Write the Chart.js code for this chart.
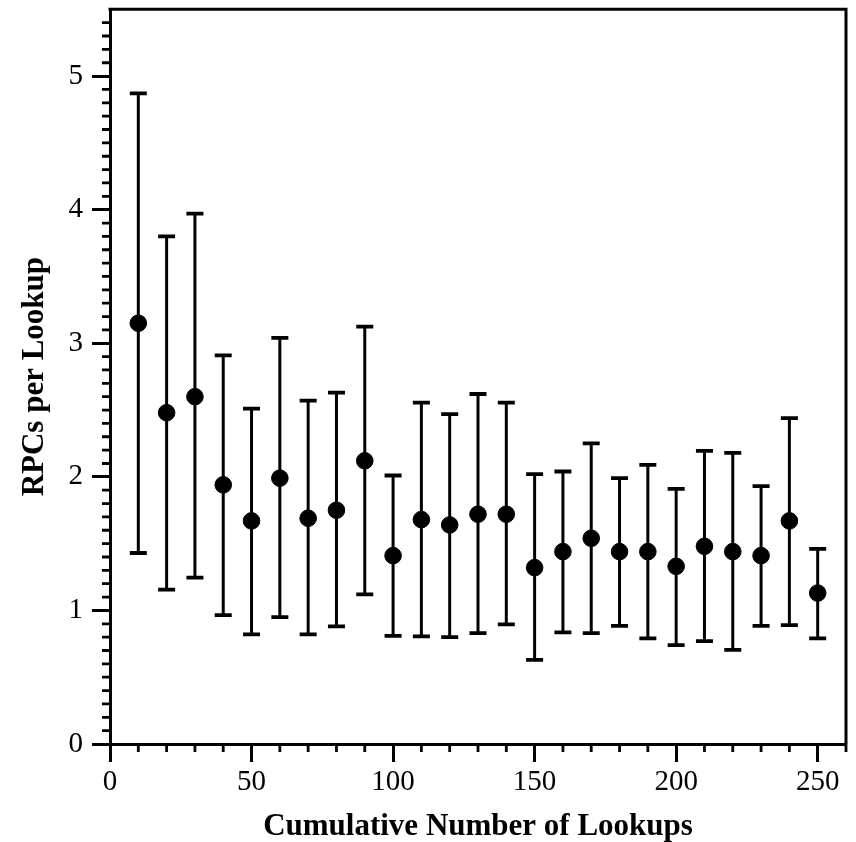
<!DOCTYPE html>
<html>
<head>
<meta charset="utf-8">
<script src="https://cdn.jsdelivr.net/npm/chart.js@4"></script>
<style>
  html, body { margin: 0; padding: 0; background: #fff; }
</style>
</head>
<body>
<canvas id="chart" width="856" height="842"></canvas>
<script>
// values
var lookups = [10, 20, 30, 40, 50, 60, 70, 80, 90, 100, 110, 120, 130, 140, 150, 160, 170, 180, 190, 200, 210, 220, 230, 240, 250];
var rpcMean = [3.15, 2.48, 2.60, 1.94, 1.67, 1.99, 1.69, 1.75, 2.12, 1.41, 1.68, 1.64, 1.72, 1.72, 1.32, 1.44, 1.54, 1.44, 1.44, 1.33, 1.48, 1.44, 1.41, 1.67, 1.13];
var rpcHigh = [4.87, 3.80, 3.97, 2.91, 2.51, 3.04, 2.57, 2.63, 3.125, 2.01, 2.555, 2.47, 2.62, 2.555, 2.02, 2.04, 2.25, 1.99, 2.09, 1.91, 2.195, 2.18, 1.93, 2.44, 1.46];
var rpcLow = [1.43, 1.155, 1.245, 0.965, 0.82, 0.95, 0.82, 0.88, 1.12, 0.81, 0.805, 0.80, 0.83, 0.895, 0.63, 0.835, 0.83, 0.885, 0.79, 0.74, 0.77, 0.705, 0.885, 0.89, 0.79];
var xRange = [0, 260];
var yRange = [0, 5.5];

var serif = "'Liberation Serif', 'Times New Roman', serif";

// error bars, minor ticks and the box round the plot
var extras = {
  id: 'extras',
  beforeDatasetsDraw: function (chart) {
    var ctx = chart.ctx, xs = chart.scales.x, ys = chart.scales.y;
    ctx.save();
    ctx.strokeStyle = '#000';
    for (var i = 0; i < lookups.length; i++) {
      var px = xs.getPixelForValue(lookups[i]);
      var hi = ys.getPixelForValue(rpcHigh[i]);
      var lo = ys.getPixelForValue(rpcLow[i]);
      ctx.lineWidth = 3;
      ctx.beginPath();
      ctx.moveTo(px, hi);
      ctx.lineTo(px, lo);
      ctx.stroke();
      ctx.lineWidth = 3.8;
      ctx.beginPath();
      ctx.moveTo(px - 8.5, hi); ctx.lineTo(px + 8.5, hi);
      ctx.moveTo(px - 8.5, lo); ctx.lineTo(px + 8.5, lo);
      ctx.stroke();
    }
    ctx.restore();
  },
  afterDraw: function (chart) {
    var ctx = chart.ctx, xs = chart.scales.x, ys = chart.scales.y, a = chart.chartArea;
    ctx.save();
    ctx.strokeStyle = '#000';
    ctx.lineWidth = 2.8;
    ctx.beginPath();
    for (var k = 1; k < 55; k++) {
      if (k % 10 === 0) continue;
      var py = ys.getPixelForValue(k / 10);
      ctx.moveTo(a.left - 8, py);
      ctx.lineTo(a.left, py);
    }
    for (var j = 1; j <= 26; j++) {
      if (j % 5 === 0) continue;
      var px = xs.getPixelForValue(j * 10);
      ctx.moveTo(px, a.bottom);
      ctx.lineTo(px, a.bottom + 8);
    }
    ctx.stroke();
    ctx.lineWidth = 3;
    ctx.beginPath();
    ctx.moveTo(a.left - 1.5, a.top);
    ctx.lineTo(a.right, a.top);
    ctx.lineTo(a.right, a.bottom);
    ctx.stroke();
    ctx.restore();
  }
};

new Chart(document.getElementById('chart'), {
  type: 'scatter',
  data: {
    datasets: [{
      data: lookups.map(function (x, i) { return { x: x, y: rpcMean[i] }; }),
      backgroundColor: '#000',
      borderColor: '#000',
      pointRadius: 8.3,
      pointHoverRadius: 8.3
    }]
  },
  options: {
    responsive: false,
    animation: false,
    layout: { padding: { top: 7, right: 10, left: 0, bottom: 0 } },
    plugins: { legend: { display: false }, tooltip: { enabled: false } },
    scales: {
      x: {
        type: 'linear',
        min: xRange[0],
        max: xRange[1],
        afterFit: function (s) { s.height = 98; s.paddingLeft = 0; s.paddingRight = 0; },
        border: { color: '#000', width: 3 },
        grid: { drawOnChartArea: false, tickLength: 18, tickWidth: 3, tickColor: '#000' },
        ticks: { stepSize: 50, includeBounds: false, color: '#000', padding: 3, font: { family: serif, size: 29 } },
        title: {
          display: true,
          text: 'Cumulative Number of Lookups',
          color: '#000',
          font: { family: serif, size: 31, weight: 'bold', lineHeight: 1 },
          padding: { top: 0, bottom: 0 }
        }
      },
      y: {
        min: yRange[0],
        max: yRange[1],
        afterFit: function (s) { s.width = 110; s.paddingTop = 0; s.paddingBottom = 0; },
        border: { color: '#000', width: 3 },
        grid: { drawOnChartArea: false, tickLength: 18, tickWidth: 3, tickColor: '#000' },
        ticks: { stepSize: 1, includeBounds: false, color: '#000', padding: 9, font: { family: serif, size: 29 } },
        title: {
          display: true,
          text: 'RPCs per Lookup',
          color: '#000',
          font: { family: serif, size: 31, weight: 'bold' },
          padding: { top: 16, bottom: 0 }
        }
      }
    }
  },
  plugins: [extras]
});
</script>
</body>
</html>
